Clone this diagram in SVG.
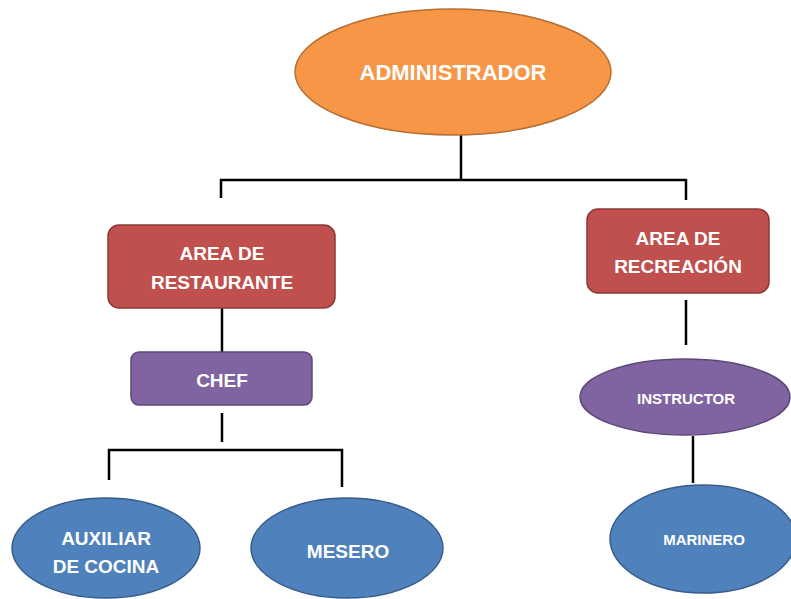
<svg xmlns="http://www.w3.org/2000/svg" width="791" height="599" viewBox="0 0 791 599">
  <style>
    .lbl { font-family: "Liberation Sans", Arial, sans-serif; font-weight: bold; fill: #FFFFFF; text-anchor: middle; }
    .orange { fill: #F79646; stroke: #B66D31; stroke-width: 1.5; }
    .red { fill: #C0504D; stroke: #8C3836; stroke-width: 1.5; }
    .purple { fill: #8064A2; stroke: #5C4776; stroke-width: 1.5; }
    .blue { fill: #4F81BD; stroke: #385D8A; stroke-width: 1.5; }
    .conn { fill: none; stroke: #000000; stroke-width: 2.5; }
  </style>
  <rect width="791" height="599" fill="#FFFFFF"/>

  <!-- connectors -->
  <g id="connectors" class="conn">
    <path d="M461 135 V180"/>
    <path d="M221 198 V180 H686 V200"/>
    <path d="M222 308 V352"/>
    <path d="M222 413 V442"/>
    <path d="M109 480 V450 H342 V487"/>
    <path d="M686 300 V345"/>
    <path d="M693 436 V483"/>
  </g>

  <g id="administrador">
    <ellipse class="orange" cx="453" cy="72" rx="158" ry="63"/>
    <text class="lbl" x="453" y="80" font-size="22">ADMINISTRADOR</text>
  </g>

  <g id="area-restaurante">
    <rect class="red" x="108" y="225" width="227" height="83" rx="11"/>
    <text class="lbl" x="222" y="260" font-size="19">AREA DE</text>
    <text class="lbl" x="222" y="289" font-size="19">RESTAURANTE</text>
  </g>

  <g id="chef">
    <rect class="purple" x="131" y="352" width="181" height="53" rx="8"/>
    <text class="lbl" x="222" y="387" font-size="19">CHEF</text>
  </g>

  <g id="auxiliar-cocina">
    <ellipse class="blue" cx="106" cy="548" rx="94" ry="50"/>
    <text class="lbl" x="106" y="545" font-size="19">AUXILIAR</text>
    <text class="lbl" x="106" y="573" font-size="19">DE COCINA</text>
  </g>

  <g id="mesero">
    <ellipse class="blue" cx="347" cy="548" rx="96" ry="50"/>
    <text class="lbl" x="348" y="558" font-size="19">MESERO</text>
  </g>

  <g id="area-recreacion">
    <rect class="red" x="587" y="209" width="182" height="84" rx="11"/>
    <text class="lbl" x="678" y="245" font-size="19">AREA DE</text>
    <text class="lbl" x="678" y="273" font-size="19">RECREACIÓN</text>
  </g>

  <g id="instructor">
    <ellipse class="purple" cx="685" cy="397" rx="105" ry="38"/>
    <text class="lbl" x="686" y="404" font-size="15">INSTRUCTOR</text>
  </g>

  <g id="marinero">
    <ellipse class="blue" cx="703" cy="539" rx="93" ry="54"/>
    <text class="lbl" x="704" y="545" font-size="15">MARINERO</text>
  </g>
</svg>
